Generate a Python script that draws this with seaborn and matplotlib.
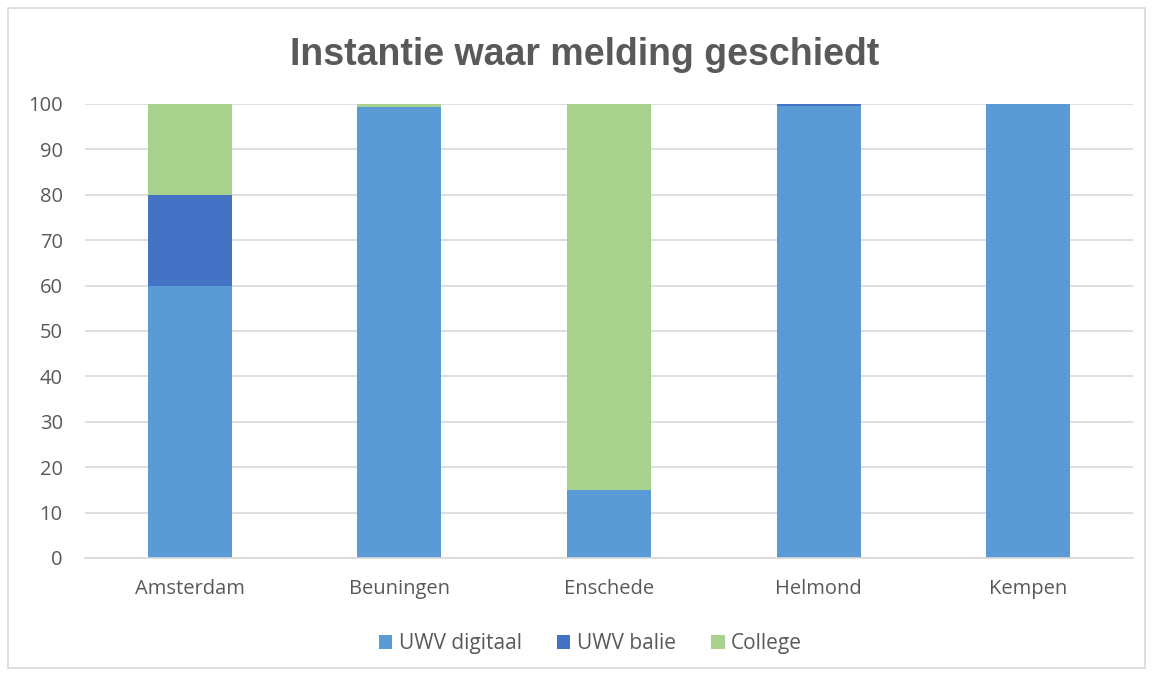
import numpy as np
import pandas as pd
import seaborn as sns
import matplotlib.pyplot as plt
from matplotlib.patches import Patch, Rectangle

# ---------------- data ----------------
gemeenten = ['Amsterdam', 'Beuningen', 'Enschede', 'Helmond', 'Kempen']
uwv_digitaal = [60, 99.3, 15, 99.5, 100]
uwv_balie = [20, 0, 0, 0.5, 0]
college = [20, 0.7, 85, 0, 0]
series_names = ['UWV digitaal', 'UWV balie', 'College']
series_colors = ['#5B9BD5', '#4472C4', '#A9D18E']

df = pd.DataFrame({'gemeente': gemeenten, 'UWV digitaal': uwv_digitaal,
                   'UWV balie': uwv_balie, 'College': college})

# ---------------- plot ----------------
sns.set_theme(style='white')
plt.rcParams['font.family'] = ['Open Sans', 'DejaVu Sans']
text_color = '#595959'

fig = plt.figure(figsize=(11.53, 6.76), dpi=100)
ax = fig.add_axes([0.0737, 0.1746, 0.909, 0.6716])

bottom = np.zeros(len(gemeenten))
for name, color in zip(series_names, series_colors):
    sns.barplot(data=df, x='gemeente', y=name, color=color, width=0.4,
                bottom=bottom, ax=ax, saturation=1, linewidth=0)
    bottom = bottom + df[name].values

ax.set_ylim(0, 100)
ax.set_xlim(-0.5, len(gemeenten) - 0.5)
ax.set_yticks(range(0, 101, 10))
ax.yaxis.grid(True, color='#D9D9D9', linewidth=1.2)
ax.set_axisbelow(True)
for s in ['top', 'right', 'left']:
    ax.spines[s].set_visible(False)
ax.spines['bottom'].set_color('#D9D9D9')
ax.spines['bottom'].set_linewidth(1.2)
ax.set_xlabel('')
ax.set_ylabel('')
ax.tick_params(axis='both', length=0, labelsize=14.5, colors=text_color)
ax.tick_params(axis='x', pad=15)
ax.tick_params(axis='y', pad=16)

fig.text(0.507, 0.919, 'Instantie waar melding geschiedt', ha='center', va='center',
         fontsize=27, fontweight='bold', color=text_color,
         family=['Liberation Sans', 'DejaVu Sans'])

handles = [Patch(facecolor=c, edgecolor='none') for c in series_colors]
fig.legend(handles, series_names, loc='center', bbox_to_anchor=(0.512, 0.048),
           ncol=3, frameon=False, fontsize=15, labelcolor=text_color,
           handlelength=0.65, handleheight=0.65, handletextpad=0.3, columnspacing=1.7)

# outer chart border
fig.add_artist(Rectangle((0.007, 0.012), 0.986, 0.976, transform=fig.transFigure,
                         fill=False, edgecolor='#D9D9D9', linewidth=1.2))

fig.savefig('out.png', dpi=100)
